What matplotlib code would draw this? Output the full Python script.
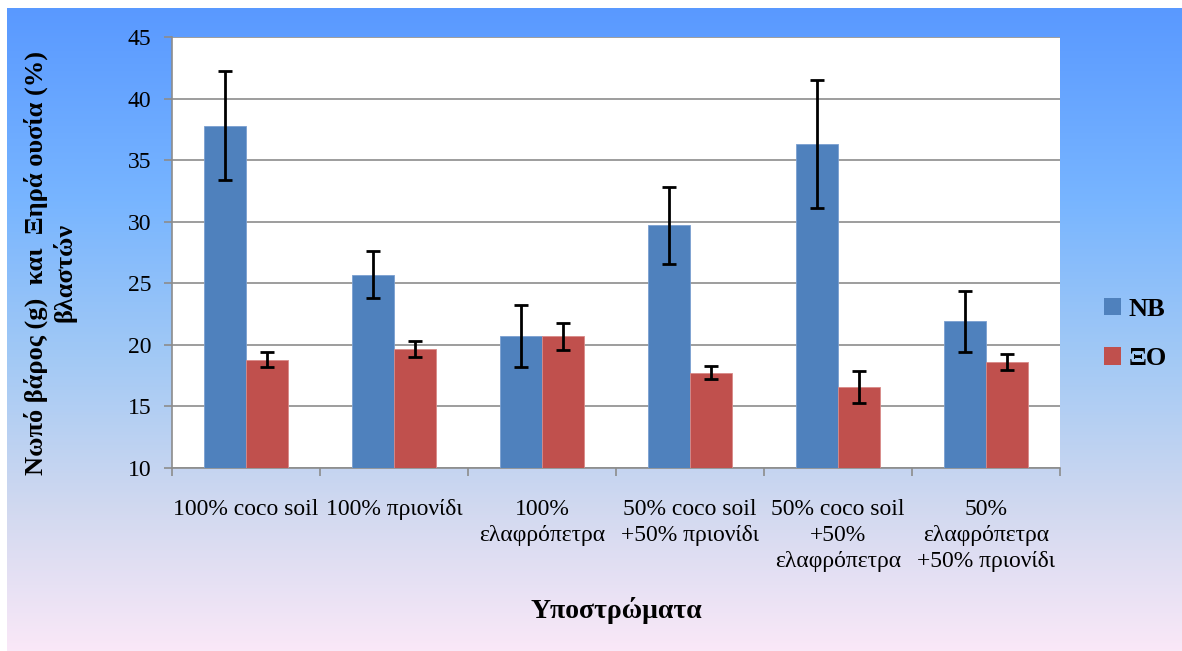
import numpy as np
import matplotlib
matplotlib.use("Agg")
import matplotlib.pyplot as plt
from matplotlib.colors import LinearSegmentedColormap
from matplotlib.patches import Patch

# Substrates (x categories)
categories = [
    "100% coco soil",
    "100% πριονίδι",
    "100%\nελαφρόπετρα",
    "50% coco soil\n+50% πριονίδι",
    "50% coco soil\n+50%\nελαφρόπετρα",
    "50%\nελαφρόπετρα\n+50% πριονίδι",
]

# Fresh weight (NB) and dry matter (ΞΟ) with standard errors
nb_values = [37.8, 25.7, 20.7, 29.7, 36.3, 21.9]
nb_errors = [4.4, 1.9, 2.5, 3.1, 5.2, 2.45]
xo_values = [18.8, 19.7, 20.7, 17.75, 16.6, 18.6]
xo_errors = [0.62, 0.65, 1.1, 0.55, 1.3, 0.65]

series_names = ["NB", "ΞΟ"]
yticks = [10, 15, 20, 25, 30, 35, 40, 45]

blue = "#4F81BD"
red = "#C0504D"

plt.rcParams["font.family"] = ["Liberation Serif", "DejaVu Serif"]

W, H = 1182, 651
fig = plt.figure(figsize=(W / 100, H / 100), dpi=100)
fig.patch.set_facecolor("white")

# Vertical gradient background of the chart area
bg = fig.add_axes([7 / W, 0, 1 - 7 / W, (H - 8) / H], zorder=-10)
cmap = LinearSegmentedColormap.from_list(
    "bg",
    [
        (0.00, (0.35, 0.60, 1.00)),
        (0.30, (0.47, 0.71, 1.00)),
        (0.55, (0.64, 0.79, 0.96)),
        (0.78, (0.82, 0.85, 0.94)),
        (1.00, (0.98, 0.91, 0.97)),
    ],
)
grad = np.linspace(0, 1, 512).reshape(-1, 1)
bg.imshow(grad, aspect="auto", cmap=cmap, extent=[0, 1, 0, 1], origin="upper")
bg.set_axis_off()

ax = fig.add_axes([172 / W, 1 - 468 / H, (1060 - 172) / W, (468 - 37) / H])
ax.set_facecolor("white")

x = np.arange(len(categories))
bw = 0.285
err_kw = dict(ecolor="black", elinewidth=2, capsize=5, capthick=2)
ax.bar(x - bw / 2, nb_values, bw, yerr=nb_errors, color=blue,
       edgecolor="#7a9fd0", linewidth=0.6, error_kw=err_kw, zorder=3)
ax.bar(x + bw / 2, xo_values, bw, yerr=xo_errors, color=red,
       edgecolor="#d88a88", linewidth=0.6, error_kw=err_kw, zorder=3)

ax.set_ylim(10, 45)
ax.set_xlim(-0.5, len(categories) - 0.5)
ax.set_yticks(yticks)
ax.set_yticklabels([str(t) for t in yticks], fontsize=17)
ax.yaxis.grid(True, color="#8c8c8c", linewidth=1.2, zorder=0)
ax.set_axisbelow(True)

ax.set_xticks(np.arange(len(categories) + 1) - 0.5)
ax.set_xticklabels([])
ax.set_xticks(x, minor=True)
ax.set_xticklabels(categories, minor=True, fontsize=17, linespacing=1.32, va="top")
ax.tick_params(axis="x", which="minor", length=0, pad=22)
ax.tick_params(axis="x", which="major", length=6, color="#8c8c8c", width=1.2, direction="out")
ax.tick_params(axis="y", length=6, color="#8c8c8c", width=1.2, direction="out", pad=9)

for side in ["top", "right"]:
    ax.spines[side].set_visible(False)
for side in ["left", "bottom"]:
    ax.spines[side].set_color("#8c8c8c")
    ax.spines[side].set_linewidth(1.2)

# Axis titles
fig.text(36 / W, 1 - 263 / H, "Νωπό βάρος (g)  και  Ξηρά ουσία (%)",
         rotation=90, ha="center", va="center", fontsize=19, fontweight="bold")
fig.text(64 / W, 1 - 272 / H, "βλαστών",
         rotation=90, ha="center", va="center", fontsize=19, fontweight="bold")
fig.text(616 / W, 1 - 611 / H, "Υποστρώματα",
         ha="center", va="center", fontsize=20, fontweight="bold")

# Legend
handles = [Patch(facecolor=blue), Patch(facecolor=red)]
fig.legend(handles, series_names, loc="center left",
           bbox_to_anchor=(1080 / W, 1 - 334 / H), frameon=False,
           prop={"size": 19, "weight": "bold"}, handlelength=0.65,
           handleheight=0.65, handletextpad=0.3, labelspacing=1.0)

fig.savefig("out.png", dpi=100)
